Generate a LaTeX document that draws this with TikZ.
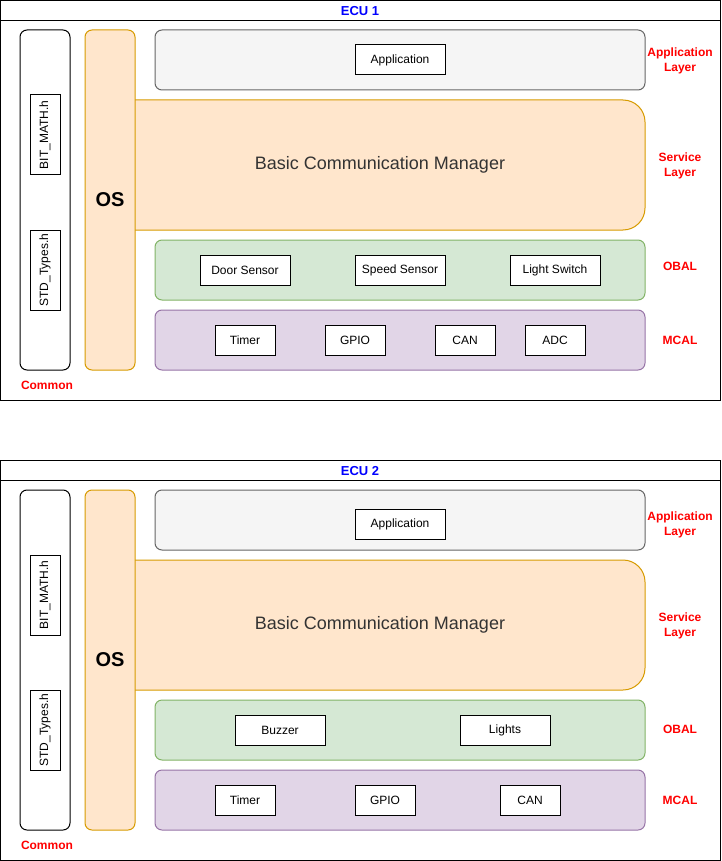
\documentclass[tikz,border=0pt]{standalone}
\usepackage{fontspec}
\setmainfont{Liberation Sans}
\definecolor{appd}{HTML}{666666}
\definecolor{appf}{HTML}{F5F5F5}
\definecolor{ord}{HTML}{D79B00}
\definecolor{orf}{HTML}{FFE6CC}
\definecolor{grd}{HTML}{82B366}
\definecolor{grf}{HTML}{D5E8D4}
\definecolor{pud}{HTML}{9673A6}
\definecolor{puf}{HTML}{E1D5E7}
\definecolor{txtg}{HTML}{333333}
\definecolor{redl}{HTML}{FF0000}
\definecolor{bluel}{HTML}{0000FF}
\begin{document}
\begin{tikzpicture}[x=1pt,y=-1pt,line width=1pt,
  every node/.style={inner sep=0pt,outer sep=0pt},
  frame/.style={draw=black,line width=1pt},
  ecutitle/.style={font=\fontsize{13}{15}\selectfont\bfseries,text=bluel},
  layer/.style={rounded corners=7pt,line width=1pt,minimum width=490pt,minimum height=60pt},
  applayer/.style={layer,draw=appd,fill=appf},
  obal/.style={layer,draw=grd,fill=grf},
  mcal/.style={layer,draw=pud,fill=puf},
  tallbox/.style={rounded corners=7pt,minimum width=50pt,minimum height=340pt},
  common/.style={tallbox,draw=black,fill=white},
  osbox/.style={tallbox,draw=ord,fill=orf,font=\fontsize{20}{24}\selectfont\bfseries},
  item/.style={draw=black,fill=white,line width=1pt,font=\fontsize{12}{14}\selectfont,minimum height=30pt},
  wide/.style={item,minimum width=90pt},
  small/.style={item,minimum width=60pt},
  vert/.style={item,rotate=90,minimum width=80pt},
  service/.style={draw=ord,fill=orf,rounded corners=22pt,line width=1pt},
  bcm/.style={font=\fontsize{18}{21}\selectfont,text=txtg},
  lbl/.style={text=redl,font=\fontsize{12}{15}\selectfont\bfseries,align=center}
]
\useasboundingbox (0,0) rectangle (721,861);

% ================= ECU 1 =================
\draw[frame] (0.5,0.5) rectangle (720.5,400.5);
\draw[frame] (0.5,20.5) -- (720.5,20.5);
\node[ecutitle] (t1) at (360,11) {ECU 1};

\node[common] (com1) at (45,200) {};
\node[vert] (bm1) at (45,135) {BIT\_MATH.h};
\node[vert] (st1) at (45,270) {STD\_Types.h};
\node[lbl] (cl1) at (47,385) {Common};

\draw[service] (135,100) -- (645,100) -- (645,230) -- (135,230);
\node[osbox] (os1) at (110,200) {OS};
\node[bcm] (bcm1) at (380,165) {Basic Communication Manager};

\node[applayer] (al1) at (400,60) {};
\node[wide] (app1) at (400,60) {Application};

\node[obal] (ob1) at (400,270) {};
\node[wide] (door1) at (245,270) {Door Sensor};
\node[wide] (speed1) at (400,270) {Speed Sensor};
\node[wide] (light1) at (555,270) {Light Switch};

\node[mcal] (mc1) at (400,340) {};
\node[small] (tim1) at (245,340) {Timer};
\node[small] (gpio1) at (355,340) {GPIO};
\node[small] (can1) at (465,340) {CAN};
\node[small] (adc1) at (555,340) {ADC};

\node[lbl] (la1) at (680,60.5) {Application\\Layer};
\node[lbl] (ls1) at (680,165.5) {Service\\Layer};
\node[lbl] (lo1) at (680,266) {OBAL};
\node[lbl] (lm1) at (680,340) {MCAL};

% ================= ECU 2 =================
\draw[frame] (0.5,460.5) rectangle (720.5,860.5);
\draw[frame] (0.5,480.5) -- (720.5,480.5);
\node[ecutitle] (t2) at (360,471) {ECU 2};

\node[common] (com2) at (45,660) {};
\node[vert] (bm2) at (45,595) {BIT\_MATH.h};
\node[vert] (st2) at (45,730) {STD\_Types.h};
\node[lbl] (cl2) at (47,845) {Common};

\draw[service] (135,560) -- (645,560) -- (645,690) -- (135,690);
\node[osbox] (os2) at (110,660) {OS};
\node[bcm] (bcm2) at (380,625) {Basic Communication Manager};

\node[applayer] (al2) at (400,520) {};
\node[wide] (app2) at (400,524) {Application};

\node[obal] (ob2) at (400,730) {};
\node[wide] (buz2) at (280,730) {Buzzer};
\node[wide] (lig2) at (505,730) {Lights};

\node[mcal] (mc2) at (400,800) {};
\node[small] (tim2) at (245,800) {Timer};
\node[small] (gpio2) at (385,800) {GPIO};
\node[small] (can2) at (530,800) {CAN};

\node[lbl] (la2) at (680,524.5) {Application\\Layer};
\node[lbl] (ls2) at (680,625.5) {Service\\Layer};
\node[lbl] (lo2) at (680,729) {OBAL};
\node[lbl] (lm2) at (680,800) {MCAL};
\end{tikzpicture}
\end{document}
